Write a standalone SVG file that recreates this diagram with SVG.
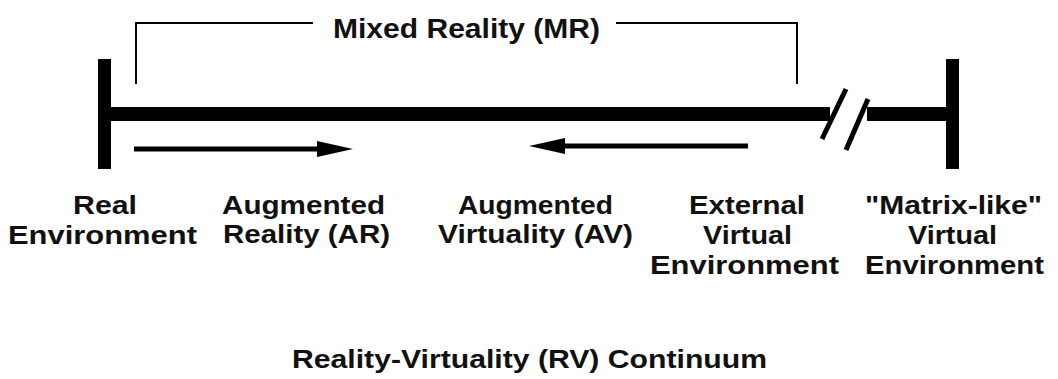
<svg xmlns="http://www.w3.org/2000/svg" width="1058" height="379" viewBox="0 0 1058 379">
  <defs>
    <style>
      text { font-family: "Liberation Sans", Arial, Helvetica, sans-serif; font-weight: bold; font-size: 26px; fill: #111; }
      .title { font-size: 27px; }
      .axis { stroke: #000; stroke-width: 14; fill: none; }
      .bar { fill: #000; }
      .slash { stroke: #000; stroke-width: 5; fill: none; }
      .bracket { stroke: #000; stroke-width: 2; fill: none; }
      .arrow { stroke: #000; stroke-width: 5; fill: none; marker-end: url(#head); }
    </style>
    <marker id="head" markerUnits="userSpaceOnUse" markerWidth="36" markerHeight="16" viewBox="0 0 36 16" refX="23" refY="8" orient="auto">
      <path d="M0,0 L36,8 L0,16 Z" fill="#000"/>
    </marker>
  </defs>
  <rect width="1058" height="379" fill="#fff"/>

  <g id="continuum-axis">
    <line class="axis" x1="104" y1="114" x2="830" y2="114"/>
    <line class="axis" x1="867" y1="114" x2="952" y2="114"/>
    <rect class="bar" x="98" y="59" width="13" height="110"/>
    <rect class="bar" x="946" y="59" width="13" height="110"/>
    <line class="slash" x1="822" y1="139" x2="846" y2="89"/>
    <line class="slash" x1="846" y1="150" x2="868" y2="99"/>
  </g>

  <g id="connectors">
    <path class="bracket" d="M136,84 V23 H313"/>
    <path class="bracket" d="M616,23 H797 V84"/>
    <line class="arrow" x1="134" y1="149" x2="340" y2="149"/>
    <line class="arrow" x1="748" y1="146" x2="542" y2="146"/>
  </g>

  <g id="mixed-reality">
    <text class="title" x="333" y="38" textLength="267" lengthAdjust="spacingAndGlyphs">Mixed Reality (MR)</text>
  </g>

  <g id="real-environment">
    <text x="73" y="214" textLength="64" lengthAdjust="spacingAndGlyphs">Real</text>
    <text x="8" y="244" textLength="189" lengthAdjust="spacingAndGlyphs">Environment</text>
  </g>

  <g id="augmented-reality">
    <text x="222" y="214" textLength="163" lengthAdjust="spacingAndGlyphs">Augmented</text>
    <text x="223" y="243" textLength="167" lengthAdjust="spacingAndGlyphs">Reality (AR)</text>
  </g>

  <g id="augmented-virtuality">
    <text x="458" y="214" textLength="155" lengthAdjust="spacingAndGlyphs">Augmented</text>
    <text x="438" y="243" textLength="195" lengthAdjust="spacingAndGlyphs">Virtuality (AV)</text>
  </g>

  <g id="external-virtual-environment">
    <text x="689" y="214" textLength="116" lengthAdjust="spacingAndGlyphs">External</text>
    <text x="703" y="244" textLength="89" lengthAdjust="spacingAndGlyphs">Virtual</text>
    <text x="650" y="274" textLength="189" lengthAdjust="spacingAndGlyphs">Environment</text>
  </g>

  <g id="matrix-like-virtual-environment">
    <text x="865" y="214" textLength="177" lengthAdjust="spacingAndGlyphs">"Matrix-like"</text>
    <text x="908" y="244" textLength="89" lengthAdjust="spacingAndGlyphs">Virtual</text>
    <text x="865" y="274" textLength="179" lengthAdjust="spacingAndGlyphs">Environment</text>
  </g>

  <g id="rv-continuum-title">
    <text x="292" y="368" textLength="475" lengthAdjust="spacingAndGlyphs">Reality-Virtuality (RV) Continuum</text>
  </g>
</svg>
